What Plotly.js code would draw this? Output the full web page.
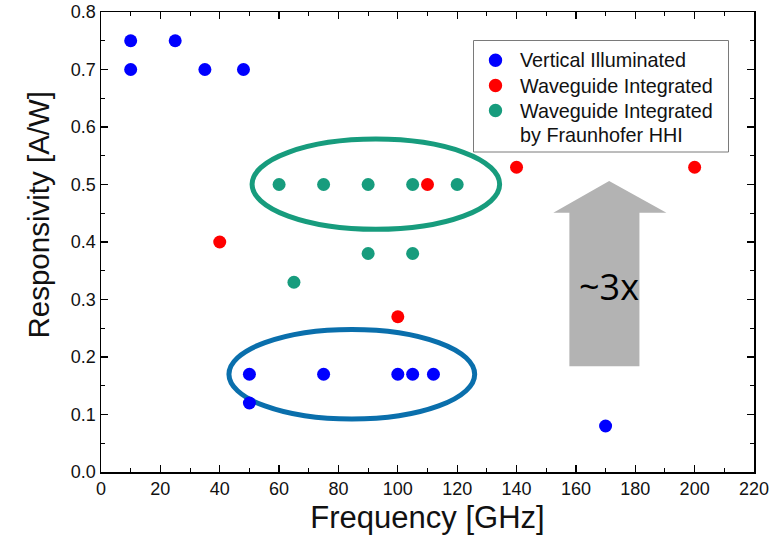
<!DOCTYPE html>
<html>
<head>
<meta charset="utf-8">
<script src="https://cdn.plot.ly/plotly-3.0.1.min.js"></script>
<style>html,body{margin:0;padding:0;background:#fff}#chart{width:781px;height:545px}</style>
</head>
<body>
<div id="chart"></div>
<script>
// Data
var seriesNames = ["Vertical Illuminated", "Waveguide Integrated", "Waveguide Integrated<br>by Fraunhofer HHI"];
var seriesColors = ["#0000ff", "#ff0000", "#179c7d"];
var verticalFreq = [10, 10, 25, 35, 48, 50, 50, 75, 100, 105, 112, 170];
var verticalResp = [0.75, 0.70, 0.75, 0.70, 0.70, 0.17, 0.12, 0.17, 0.17, 0.17, 0.17, 0.08];
var waveguideFreq = [40, 100, 110, 140, 200];
var waveguideResp = [0.40, 0.27, 0.50, 0.53, 0.53];
var hhiFreq = [60, 75, 90, 105, 120, 65, 90, 105];
var hhiResp = [0.50, 0.50, 0.50, 0.50, 0.50, 0.33, 0.38, 0.38];
var xTicks = [0, 20, 40, 60, 80, 100, 120, 140, 160, 180, 200, 220];
var yTicks = [0.0, 0.1, 0.2, 0.3, 0.4, 0.5, 0.6, 0.7, 0.8];
var xTitle = 'Frequency [GHz]';
var yTitle = 'Responsivity [A/W]';

var mk = function (c) { return {color: c, size: 13, line: {width: 0}}; };
var traces = [
  {x: verticalFreq, y: verticalResp, name: seriesNames[0], mode: 'markers', type: 'scatter', marker: mk(seriesColors[0]), cliponaxis: false, showlegend: false},
  {x: waveguideFreq, y: waveguideResp, name: seriesNames[1], mode: 'markers', type: 'scatter', marker: mk(seriesColors[1]), cliponaxis: false, showlegend: false},
  {x: hhiFreq, y: hhiResp, name: seriesNames[2], mode: 'markers', type: 'scatter', marker: mk(seriesColors[2]), cliponaxis: false, showlegend: false}
];

// plot area geometry (pixels) used to place the hand-built legend
var PL = 101, PW = 653, PT = 12, PH = 460;
function px(v) { return (v - PL) / PW; }
function py(v) { return (PT + PH - v) / PH; }

var FONT = 'Liberation Sans, Arial, sans-serif';

var axisCommon = {
  showline: true, linecolor: '#000', linewidth: 1.5, mirror: 'ticks',
  ticks: 'inside', ticklen: 7, tickwidth: 1.2, tickcolor: '#000',
  showgrid: false, zeroline: false,
  tickfont: {family: FONT, size: 18, color: '#111'}
};

var shapes = [
  {type: 'circle', xref: 'x', yref: 'y', x0: 50.9, x1: 134.3, y0: 0.422, y1: 0.579,
   line: {color: '#179c7d', width: 5}, layer: 'below'},
  {type: 'circle', xref: 'x', yref: 'y', x0: 43.1, x1: 125.9, y0: 0.092, y1: 0.248,
   line: {color: '#0a6fac', width: 5}, layer: 'below'},
  {type: 'path', xref: 'x', yref: 'y', layer: 'below',
   path: 'M 171.2 0.506 L 190.5 0.451 L 181.4 0.451 L 181.4 0.184 L 157.8 0.184 L 157.8 0.451 L 152.4 0.451 Z',
   fillcolor: '#b3b3b3', line: {width: 0}},
  // legend box
  {type: 'rect', xref: 'paper', yref: 'paper', x0: px(473.5), x1: px(728.5), y0: py(152), y1: py(40.5),
   line: {color: '#7a7a7a', width: 1}, fillcolor: '#fff', layer: 'above'}
];

var legendRows = [60.3, 85.5, 110.5];
var annotations = [
  {x: 171.2, y: 0.322, xref: 'x', yref: 'y', text: '~3x', showarrow: false,
   font: {family: 'Open Sans, Noto Sans, sans-serif', size: 36, color: '#000'}},
  {x: px(37.5), y: py(215), xref: 'paper', yref: 'paper', text: yTitle, textangle: -90, showarrow: false,
   xanchor: 'center', yanchor: 'middle', font: {family: FONT, size: 29.5, color: '#111'}}
];
var legendLines = [seriesNames[0], seriesNames[1], 'Waveguide Integrated', 'by Fraunhofer HHI'];
var lineRows = [60.3, 85.5, 110.5, 135.5];
legendLines.forEach(function (t, i) {
  annotations.push({x: px(517.5), y: py(lineRows[i]), xref: 'paper', yref: 'paper', xanchor: 'left', yanchor: 'middle',
    text: t, showarrow: false, font: {family: FONT, size: 19.8, color: '#111'}});
});
legendRows.forEach(function (r, i) {
  shapes.push({type: 'circle', xref: 'paper', yref: 'paper', xsizemode: 'pixel', ysizemode: 'pixel',
    xanchor: px(495.5), yanchor: py(r), x0: -6.7, x1: 6.7, y0: -6.7, y1: 6.7,
    fillcolor: seriesColors[i], line: {width: 0}, layer: 'above'});
});

var layout = {
  width: 781, height: 545,
  margin: {l: PL, r: 781 - PL - PW, t: PT, b: 545 - PT - PH},
  paper_bgcolor: '#fff', plot_bgcolor: '#fff',
  showlegend: false,
  xaxis: Object.assign({}, axisCommon, {
    range: [0, 220], tickvals: xTicks, ticktext: xTicks.map(String),
    minor: {dtick: 10, ticks: 'inside', ticklen: 4, tickcolor: '#000', tickwidth: 1},
    title: {text: xTitle, font: {family: FONT, size: 31, color: '#111'}, standoff: 8}
  }),
  yaxis: Object.assign({}, axisCommon, {
    range: [0, 0.8], tickvals: yTicks, ticktext: yTicks.map(function (v) { return v.toFixed(1); }),
    minor: {dtick: 0.05, ticks: 'inside', ticklen: 4, tickcolor: '#000', tickwidth: 1}
  }),
  shapes: shapes,
  annotations: annotations
};

Plotly.newPlot('chart', traces, layout, {displayModeBar: false, staticPlot: true});
</script>
</body>
</html>
